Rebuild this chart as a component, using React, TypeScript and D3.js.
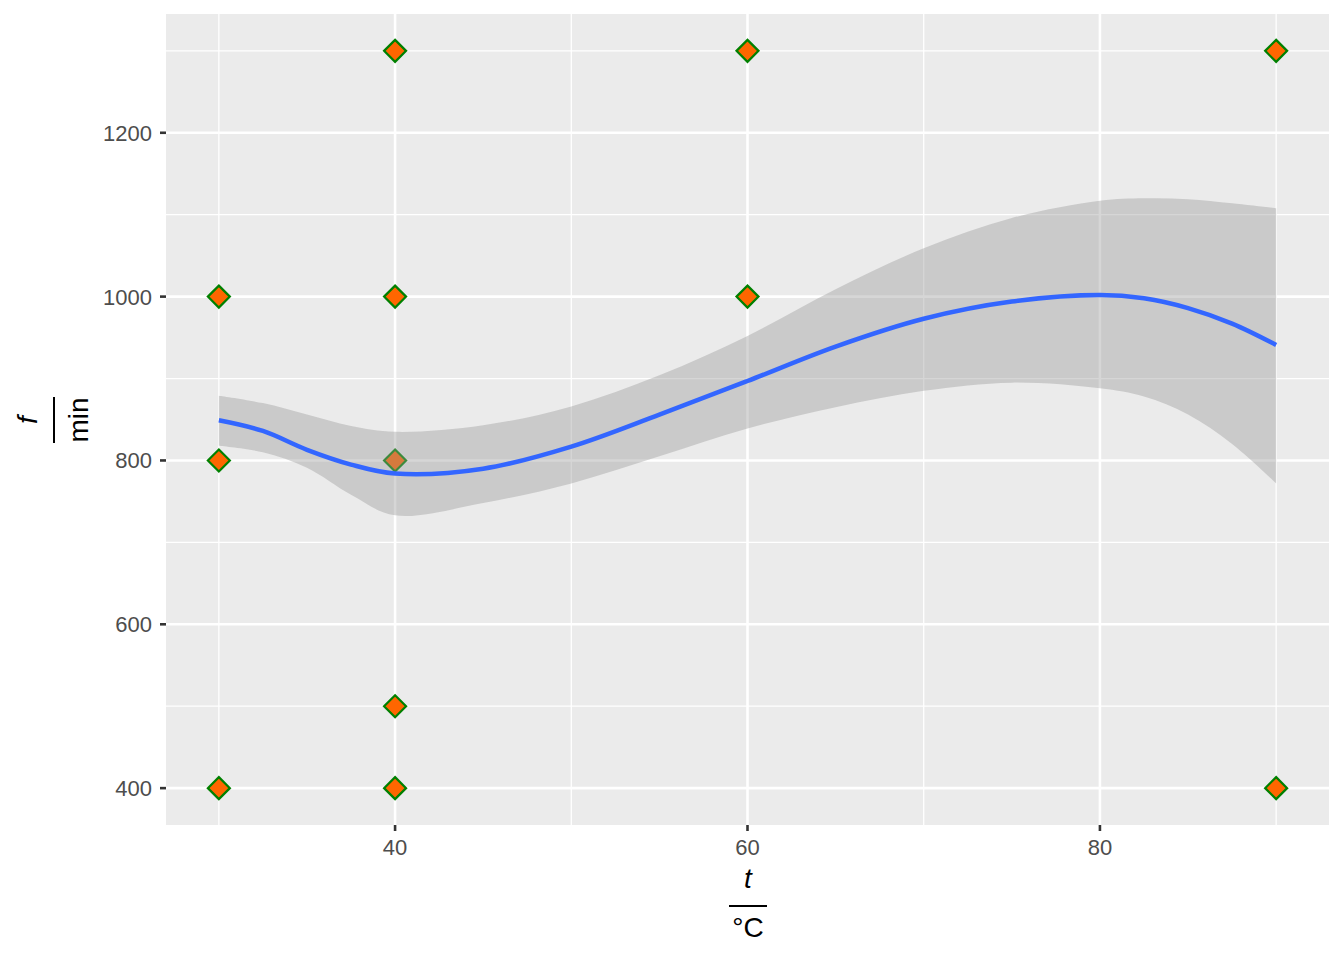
import React from "react";
import * as d3 from "d3";

// Observations (t in °C, f in min)
const pointT = [30, 30, 30, 40, 40, 40, 40, 40, 60, 60, 90, 90];
const pointF = [400, 800, 1000, 400, 500, 800, 1000, 1300, 1000, 1300, 400, 1300];

// Smoothed fit with confidence band, read at knots
const smoothT = [30, 32.5, 35, 37.5, 40, 45, 50, 55, 60, 65, 70, 75, 80, 82.5, 85, 87.5, 90];
const smoothFit = [849, 836, 813, 795, 784, 790, 817, 856, 897, 939, 973, 994, 1002, 998, 986, 967, 941];
const smoothUpper = [879, 870, 856, 842, 835, 843, 866, 904, 952, 1009, 1059, 1096, 1117, 1120, 1119, 1114, 1108];
const smoothLower = [818, 810, 791, 758, 733, 748, 772, 805, 839, 865, 885, 895, 888, 878, 856, 820, 772];

const xMajor = [40, 60, 80];
const xMinor = [30, 50, 70, 90];
const yMajor = [400, 600, 800, 1000, 1200];
const yMinor = [500, 700, 900, 1100, 1300];

const W = 1344;
const H = 960;
const P = { left: 166, right: 1329, top: 14, bottom: 825 };

export default function App() {
  const x = d3.scaleLinear().domain([27, 93]).range([P.left, P.right]);
  const y = d3.scaleLinear().domain([355, 1345]).range([P.bottom, P.top]);

  const band = smoothT.map((t, i) => ({ t, lo: smoothLower[i], hi: smoothUpper[i], fit: smoothFit[i] }));
  const curve = d3.curveCatmullRom.alpha(0.5);
  const area = d3
    .area<any>()
    .x((d) => x(d.t))
    .y0((d) => y(d.lo))
    .y1((d) => y(d.hi))
    .curve(curve);
  const line = d3
    .line<any>()
    .x((d) => x(d.t))
    .y((d) => y(d.fit))
    .curve(curve);

  const r = 11;
  const diamond = `M0,${-r}L${r},0L0,${r}L${-r},0Z`;
  const font = "Liberation Sans, Arial, Helvetica, sans-serif";

  return (
    <svg width={W} height={H} style={{ position: "absolute", left: 0, top: 0 }} fontFamily={font}>
      <rect x={0} y={0} width={W} height={H} fill="#FFFFFF" />
      <rect x={P.left} y={P.top} width={P.right - P.left} height={P.bottom - P.top} fill="#EBEBEB" />
      {xMinor.map((v) => (
        <line key={"xm" + v} x1={x(v)} x2={x(v)} y1={P.top} y2={P.bottom} stroke="#FFFFFF" strokeWidth={1.3} />
      ))}
      {yMinor.map((v) => (
        <line key={"ym" + v} x1={P.left} x2={P.right} y1={y(v)} y2={y(v)} stroke="#FFFFFF" strokeWidth={1.3} />
      ))}
      {xMajor.map((v) => (
        <line key={"xM" + v} x1={x(v)} x2={x(v)} y1={P.top} y2={P.bottom} stroke="#FFFFFF" strokeWidth={2.6} />
      ))}
      {yMajor.map((v) => (
        <line key={"yM" + v} x1={P.left} x2={P.right} y1={y(v)} y2={y(v)} stroke="#FFFFFF" strokeWidth={2.6} />
      ))}

      {pointT.map((t, i) => (
        <path
          key={"p" + i}
          d={diamond}
          transform={`translate(${x(t)},${y(pointF[i])})`}
          fill="#FF6600"
          stroke="#008000"
          strokeWidth={2.2}
        />
      ))}

      <path d={area(band) || ""} fill="#999999" fillOpacity={0.4} />
      <path d={line(band) || ""} fill="none" stroke="#3366FF" strokeWidth={4.5} />

      {/* axis ticks */}
      {xMajor.map((v) => (
        <g key={"xt" + v}>
          <line x1={x(v)} x2={x(v)} y1={P.bottom} y2={P.bottom + 6} stroke="#333333" strokeWidth={2.6} />
          <text x={x(v)} y={855} textAnchor="middle" fontSize={22} fill="#4D4D4D">
            {v}
          </text>
        </g>
      ))}
      {yMajor.map((v) => (
        <g key={"yt" + v}>
          <line x1={P.left - 6} x2={P.left} y1={y(v)} y2={y(v)} stroke="#333333" strokeWidth={2.6} />
          <text x={P.left - 14} y={y(v) + 8} textAnchor="end" fontSize={22} fill="#4D4D4D">
            {v}
          </text>
        </g>
      ))}

      {/* x axis title: t / °C */}
      <g>
        <text x={748} y={888} textAnchor="middle" fontSize={28} fontStyle="italic" fill="#000000">
          t
        </text>
        <line x1={729} x2={767} y1={906} y2={906} stroke="#000000" strokeWidth={2} />
        <text x={748} y={937} textAnchor="middle" fontSize={28} fill="#000000">
          °C
        </text>
      </g>

      {/* y axis title: f / min */}
      <g transform="translate(0,420) rotate(-90)">
        <text x={0} y={37} textAnchor="middle" fontSize={28} fontStyle="italic" fill="#000000">
          f
        </text>
        <line x1={-23} x2={23} y1={54} y2={54} stroke="#000000" strokeWidth={2} />
        <text x={0} y={88} textAnchor="middle" fontSize={28} fill="#000000">
          min
        </text>
      </g>
    </svg>
  );
}
